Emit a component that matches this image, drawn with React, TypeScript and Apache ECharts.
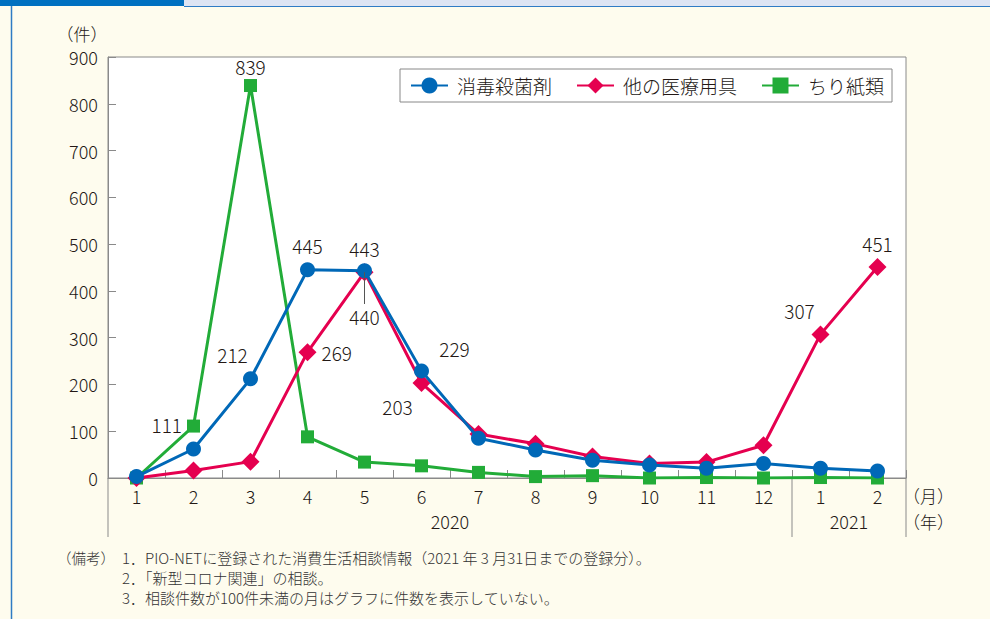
import React, { useEffect, useRef } from "react";
import * as echarts from "echarts";

const months = ["1", "2", "3", "4", "5", "6", "7", "8", "9", "10", "11", "12", "1", "2"];
const years = ["2020", "2021"];
const yearSpans = [12, 2];
const seriesNames = ["消毒殺菌剤", "他の医療用具", "ちり紙類"];
const disinfectant = [3, 62, 212, 445, 443, 229, 85, 60, 38, 28, 21, 31, 21, 15];
const medical = [0, 16, 35, 269, 440, 203, 94, 73, 46, 31, 34, 70, 307, 451];
const tissue = [0, 111, 839, 88, 34, 26, 12, 3, 5, 0, 1, 0, 1, 0];
const yMin = 0;
const yMax = 900;
const yStep = 100;
const yUnit = "（件）";
const monthUnit = "（月）";
const yearUnit = "（年）";
const noteHead = "（備考）";
const notes = [
  "1．PIO-NETに登録された消費生活相談情報（2021 年 3 月31日までの登録分）。",
  "2．「新型コロナ関連」の相談。",
  "3．相談件数が100件未満の月はグラフに件数を表示していない。",
];

const FONT = '"Noto Sans CJK JP", "Noto Sans", sans-serif';
const TEXT = "#231815";
const AXIS = "#8a8a8a";
const COLORS = ["#0068B7", "#E5004F", "#22AC38"];
const SYMBOLS = ["circle", "diamond", "rect"];
const SYMBOL_SIZES = [15, 18, 13];
const LIGHT = 300;

// label placement per series index -> point index
const labelPlacement: Record<number, Record<number, any>> = {
  0: {
    2: { position: "top", offset: [-18, -2] },
    3: { position: "top", offset: [0, -2] },
    4: { position: "top", offset: [0, 0] },
    5: { position: "top", offset: [33, 0] },
  },
  1: {
    3: { position: "right", offset: [0, 0] },
    4: { position: "bottom", distance: 26, offset: [0, 0] },
    5: { position: "bottom", offset: [-24, 0] },
    12: { position: "top", offset: [-21, 0] },
    13: { position: "top", offset: [0, 0] },
  },
  2: {
    1: { position: "left", offset: [0, -2] },
    2: { position: "top", offset: [0, 2] },
  },
};

const GRID = { left: 108, top: 57, width: 798, height: 421 };

export default function App() {
  const ref = useRef<HTMLDivElement>(null);
  useEffect(() => {
    document.body.style.margin = "0";
    const chart = echarts.init(ref.current!, null, { renderer: "svg" });
    const all = [disinfectant, medical, tissue];
    const series = all.map((vals, si) => ({
      name: seriesNames[si],
      type: "line",
      z: 4 - si,
      data: vals.map((v, i) => {
        const p = labelPlacement[si] && labelPlacement[si][i];
        if (!p) return v;
        return {
          value: v,
          label: {
            show: true,
            fontSize: 19,
            fontWeight: LIGHT,
            fontFamily: FONT,
            color: TEXT,
            textBorderWidth: 0,
            textBorderColor: "transparent",
            ...p,
          },
        };
      }),
      symbol: SYMBOLS[si],
      symbolSize: SYMBOL_SIZES[si],
      showSymbol: true,
      lineStyle: { color: COLORS[si], width: 3 },
      itemStyle: { color: COLORS[si] },
      label: { show: false },
      ...(si === 1
        ? {
            markLine: {
              silent: true,
              symbol: "none",
              label: { show: false },
              lineStyle: { color: "#555", width: 1, type: "solid" },
              data: [[{ coord: [4, medical[4]] }, { coord: [4, medical[4] - 68] }]],
            },
          }
        : {}),
    }));

    const option: any = {
      animation: false,
      backgroundColor: "#FEFCEE",
      textStyle: { fontFamily: FONT },
      grid: {
        ...GRID,
        show: true,
        backgroundColor: "#ffffff",
        borderColor: AXIS,
        borderWidth: 1,
      },
      legend: {
        data: seriesNames,
        left: 400,
        top: 69,
        orient: "horizontal",
        backgroundColor: "#ffffff",
        borderColor: "#888",
        borderWidth: 1,
        padding: [7, 8, 7, 10],
        itemGap: 24,
        itemWidth: 37,
        itemHeight: 20,
        textStyle: { fontSize: 19, color: TEXT, fontFamily: FONT, fontWeight: LIGHT, padding: [0, 0, 0, 4] },
      },
      xAxis: {
        type: "category",
        data: months,
        boundaryGap: true,
        axisLine: { show: true, lineStyle: { color: AXIS, width: 1 } },
        axisTick: { show: true, inside: true, length: 8, interval: 0, lineStyle: { color: AXIS } },
        axisLabel: { interval: 0, fontSize: 18, color: TEXT, margin: 9, fontFamily: FONT, fontWeight: LIGHT },
        splitLine: { show: false },
      },
      yAxis: {
        type: "value",
        min: yMin,
        max: yMax,
        interval: yStep,
        axisLine: { show: true, lineStyle: { color: AXIS, width: 1 } },
        axisTick: { show: true, inside: true, length: 8, lineStyle: { color: AXIS } },
        axisLabel: { fontSize: 18, color: TEXT, margin: 10, fontFamily: FONT, fontWeight: LIGHT },
        splitLine: { show: false },
      },
      series,
    };
    chart.setOption(option);

    const px = (i: number) => chart.convertToPixel({ xAxisIndex: 0 }, i) as number;
    const bw = px(1) - px(0);
    const axisY = chart.convertToPixel({ yAxisIndex: 0 }, yMin) as number;
    const bottomY = axisY + 59;
    const g: any[] = [
      { type: "rect", shape: { x: 0, y: 0, width: 184, height: 6 }, style: { fill: "#0070C0" } },
      { type: "rect", shape: { x: 184, y: 0, width: 806, height: 6 }, style: { fill: "#DDE4F3" } },
      { type: "line", shape: { x1: 184, y1: 6.5, x2: 990, y2: 6.5 }, style: { stroke: "#2F7BC4", lineWidth: 1.2 } },
      { type: "line", shape: { x1: 11.5, y1: 6, x2: 11.5, y2: 619 }, style: { stroke: "#2F7BC4", lineWidth: 1.5 } },
      {
        type: "text",
        x: 82,
        y: 33,
        style: { text: yUnit, fill: TEXT, font: `${LIGHT} 17px ${FONT}`, align: "center", verticalAlign: "middle" },
      },
      {
        type: "text",
        x: 903,
        y: 495,
        style: { text: monthUnit, fill: TEXT, font: `${LIGHT} 17px ${FONT}`, align: "left", verticalAlign: "middle" },
      },
      {
        type: "text",
        x: 903,
        y: 521,
        style: { text: yearUnit, fill: TEXT, font: `${LIGHT} 17px ${FONT}`, align: "left", verticalAlign: "middle" },
      },
      {
        type: "text",
        x: 57,
        y: 557,
        style: { text: noteHead, fill: "#333", font: `${LIGHT} 14.5px ${FONT}`, align: "left", verticalAlign: "middle" },
      },
    ];
    notes.forEach((n, k) => {
      g.push({
        type: "text",
        x: 122,
        y: 557 + k * 20,
        style: { text: n, fill: "#333", font: `${LIGHT} 15px ${FONT}`, align: "left", verticalAlign: "middle" },
      });
    });
    // year separators and labels
    let start = 0;
    const leftEdge = px(0) - bw / 2;
    g.push({ type: "line", shape: { x1: leftEdge, y1: axisY, x2: leftEdge, y2: bottomY }, style: { stroke: AXIS, lineWidth: 1 } });
    years.forEach((yr, k) => {
      const end = start + yearSpans[k] - 1;
      const x1 = px(start) - bw / 2;
      const x2 = px(end) + bw / 2;
      g.push({ type: "line", shape: { x1: x2, y1: axisY, x2: x2, y2: bottomY }, style: { stroke: AXIS, lineWidth: 1 } });
      g.push({
        type: "text",
        x: (x1 + x2) / 2,
        y: axisY + 43,
        style: { text: yr, fill: TEXT, font: `${LIGHT} 18px ${FONT}`, align: "center", verticalAlign: "middle" },
      });
      start = end + 1;
    });
    chart.setOption({ graphic: g });
    return () => chart.dispose();
  }, []);
  return <div ref={ref} style={{ position: "fixed", left: 0, top: 0, width: 990, height: 619 }} />;
}
